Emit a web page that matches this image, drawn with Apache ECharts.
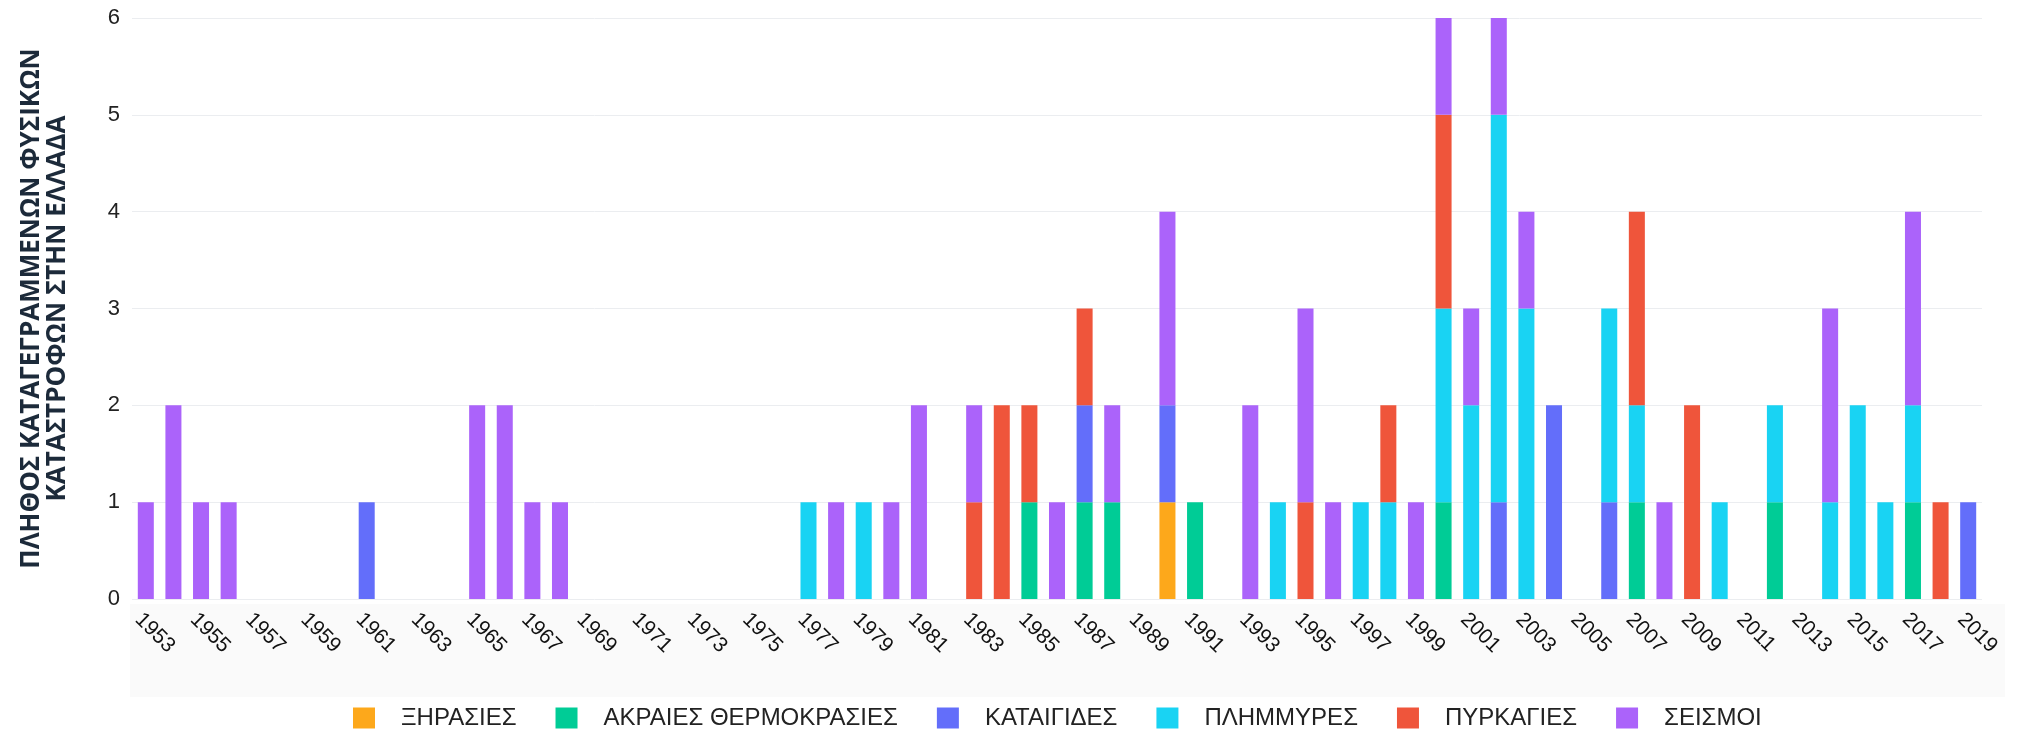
<!DOCTYPE html>
<html>
<head>
<meta charset="utf-8">
<script src="https://cdn.jsdelivr.net/npm/echarts@6/dist/echarts.min.js"></script>
<style>
html,body{margin:0;padding:0;background:#fff;}
#chart{width:2026px;height:734px;}
</style>
</head>
<body>
<div id="chart"></div>
<script>
var years = [
  '1953','1954','1955','1956','1957','1958','1959','1960','1961','1962',
  '1963','1964','1965','1966','1967','1968','1969','1970','1971','1972',
  '1973','1974','1975','1976','1977','1978','1979','1980','1981','1982',
  '1983','1984','1985','1986','1987','1988','1989','1990','1991','1992',
  '1993','1994','1995','1996','1997','1998','1999','2000','2001','2002',
  '2003','2004','2005','2006','2007','2008','2009','2010','2011','2012',
  '2013','2014','2015','2016','2017','2018','2019'
];
var droughts = [
  0,0,0,0,0,0,0,0,0,0,
  0,0,0,0,0,0,0,0,0,0,
  0,0,0,0,0,0,0,0,0,0,
  0,0,0,0,0,0,0,1,0,0,
  0,0,0,0,0,0,0,0,0,0,
  0,0,0,0,0,0,0,0,0,0,
  0,0,0,0,0,0,0
];
var extremeTemps = [
  0,0,0,0,0,0,0,0,0,0,
  0,0,0,0,0,0,0,0,0,0,
  0,0,0,0,0,0,0,0,0,0,
  0,0,1,0,1,1,0,0,1,0,
  0,0,0,0,0,0,0,1,0,0,
  0,0,0,0,1,0,0,0,0,1,
  0,0,0,0,1,0,0
];
var storms = [
  0,0,0,0,0,0,0,0,1,0,
  0,0,0,0,0,0,0,0,0,0,
  0,0,0,0,0,0,0,0,0,0,
  0,0,0,0,1,0,0,1,0,0,
  0,0,0,0,0,0,0,0,0,1,
  0,2,0,1,0,0,0,0,0,0,
  0,0,0,0,0,0,1
];
var floods = [
  0,0,0,0,0,0,0,0,0,0,
  0,0,0,0,0,0,0,0,0,0,
  0,0,0,0,1,0,1,0,0,0,
  0,0,0,0,0,0,0,0,0,0,
  0,1,0,0,1,1,0,2,2,4,
  3,0,0,2,1,0,0,1,0,1,
  0,1,2,1,1,0,0
];
var fires = [
  0,0,0,0,0,0,0,0,0,0,
  0,0,0,0,0,0,0,0,0,0,
  0,0,0,0,0,0,0,0,0,0,
  1,2,1,0,1,0,0,0,0,0,
  0,0,1,0,0,1,0,2,0,0,
  0,0,0,0,2,0,2,0,0,0,
  0,0,0,0,0,1,0
];
var earthquakes = [
  1,2,1,1,0,0,0,0,0,0,
  0,0,2,2,1,1,0,0,0,0,
  0,0,0,0,0,1,0,1,2,0,
  1,0,0,1,0,1,0,2,0,0,
  2,0,2,1,0,0,1,1,1,1,
  1,0,0,0,0,1,0,0,0,0,
  0,2,0,0,2,0,0
];
var seriesNames = ['ΞΗΡΑΣΙΕΣ','ΑΚΡΑΙΕΣ ΘΕΡΜΟΚΡΑΣΙΕΣ','ΚΑΤΑΙΓΙΔΕΣ','ΠΛΗΜΜΥΡΕΣ','ΠΥΡΚΑΓΙΕΣ','ΣΕΙΣΜΟΙ'];
var seriesData = [droughts, extremeTemps, storms, floods, fires, earthquakes];
var colors = ['#FDA81B','#00CC96','#636EFA','#19D3F3','#EF553B','#AB63FA'];
var yTicks = [0,1,2,3,4,5,6];

var chart = echarts.init(document.getElementById('chart'));
var series = seriesNames.map(function(n, k){
  return {
    name: n,
    type: 'bar',
    stack: 'total',
    data: seriesData[k],
    barCategoryGap: '42%',
    itemStyle: {color: colors[k]},
    emphasis: {disabled: true}
  };
});
chart.setOption({
  animation: false,
  color: colors,
  graphic: [{
    type: 'rect', z: -10, silent: true,
    shape: {x: 130, y: 604, width: 1875, height: 93},
    style: {fill: '#fafafa'}
  }],
  grid: {left: 132, right: 44, top: 18, bottom: 135, containLabel: false, outerBoundsMode: 'none'},
  legend: {
    left: 348, top: 701,
    itemWidth: 22, itemHeight: 21, itemGap: 39,
    icon: 'rect',
    padding: 5,
    textStyle: {fontFamily: 'Liberation Sans, Arial, sans-serif', fontSize: 24, color: '#222', padding: [0,0,0,21]},
    data: seriesNames
  },
  xAxis: {
    type: 'category',
    data: years,
    axisLine: {show: false},
    axisTick: {show: false},
    axisLabel: {
      interval: 1, rotate: -45, margin: 10, verticalAlign: 'top',
      fontFamily: 'Liberation Sans, Arial, sans-serif', fontSize: 21, color: '#111'
    },
    splitLine: {show: false}
  },
  yAxis: {
    type: 'value', min: 0, max: 6, interval: 1,
    name: 'ΠΛΗΘΟΣ ΚΑΤΑΓΕΓΡΑΜΜΕΝΩΝ ΦΥΣΙΚΩΝ\nΚΑΤΑΣΤΡΟΦΩΝ ΣΤΗΝ ΕΛΛΑΔΑ',
    nameLocation: 'middle', nameRotate: 90, nameGap: 61,
    nameTextStyle: {fontFamily: 'Open Sans, sans-serif', fontWeight: 'bold', fontSize: 26, color: '#1c2a3a', lineHeight: 26},
    axisLine: {show: false},
    axisTick: {show: false},
    axisLabel: {
      margin: 12, fontFamily: 'Liberation Sans, Arial, sans-serif', fontSize: 22, color: '#222',
      formatter: function(v){ return yTicks.indexOf(v) >= 0 ? String(v) : ''; }
    },
    splitLine: {lineStyle: {color: '#ebedf0', width: 1}}
  },
  series: series
});
</script>
</body>
</html>
